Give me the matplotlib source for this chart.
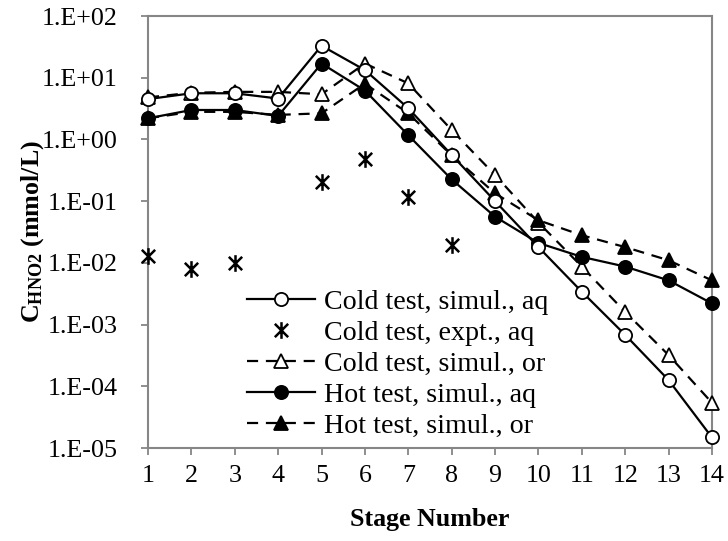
import math
import matplotlib
matplotlib.use("Agg")
import matplotlib.pyplot as plt
from matplotlib.path import Path
from matplotlib.ticker import FixedLocator, FuncFormatter, NullLocator

plt.rcParams['font.family'] = ['Liberation Serif', 'DejaVu Serif']
plt.rcParams['mathtext.fontset'] = 'custom'
plt.rcParams['mathtext.rm'] = 'Liberation Serif'
plt.rcParams['mathtext.bf'] = 'Liberation Serif:bold'

# Stage numbers
stages = list(range(1, 15))

# HNO2 concentration profiles (mmol/L)
cold_sim_aq = [4.5, 5.6, 5.6, 4.6, 33, 13.3, 3.2, 0.56, 0.10, 0.018, 0.0034, 6.8e-4, 1.26e-4, 1.48e-5]
cold_exp_stages = [1, 2, 3, 5, 6, 7, 8]
cold_exp_aq = [0.0129, 0.0079, 0.0098, 0.206, 0.49, 0.117, 0.0195]
cold_sim_or = [4.8, 5.7, 5.9, 5.9, 5.4, 17, 8.1, 1.42, 0.265, 0.045, 0.0087, 0.0016, 3.2e-4, 5.4e-5]
hot_sim_aq = [2.2, 3.0, 3.0, 2.4, 17, 6.2, 1.17, 0.225, 0.056, 0.021, 0.0125, 0.0087, 0.0052, 0.0022]
hot_sim_or = [2.2, 2.8, 2.8, 2.5, 2.65, 8.0, 2.65, 0.55, 0.134, 0.049, 0.028, 0.018, 0.011, 0.0052]

y_exponents = list(range(-5, 3))

# star marker: vertical stroke crossed by an X
star = Path([(0, -1), (0, 1), (-0.8, -0.8), (0.8, 0.8), (-0.8, 0.8), (0.8, -0.8)],
            [Path.MOVETO, Path.LINETO, Path.MOVETO, Path.LINETO, Path.MOVETO, Path.LINETO])

fig = plt.figure(figsize=(7.28, 5.41), dpi=100)
ax = fig.add_axes([0.2033, 0.1719, 0.7747, 0.7985])

fs = 18.7
lw = 1.6
ms = 9.5
dash = (0, (5, 3.5))

common = dict(color='black', lw=lw, ms=ms, clip_on=False, mew=1.3)
ax.plot(stages, cold_sim_aq, '-', marker='o', mfc='white', mec='black',
        label='Cold test, simul., aq', zorder=5, **common)
ax.plot(cold_exp_stages, cold_exp_aq, ls='none', marker=star, color='black',
        mfc='none', ms=12, mew=1.8, label='Cold test, expt., aq', clip_on=False, zorder=4)
ax.plot(stages, cold_sim_or, ls=dash, marker='^', mfc='white', mec='black',
        label='Cold test, simul., or', zorder=3, **common)
ax.plot(stages, hot_sim_aq, '-', marker='o', mfc='black', mec='black',
        label='Hot test, simul., aq', zorder=4, **common)
ax.plot(stages, hot_sim_or, ls=dash, marker='^', mfc='black', mec='black',
        label='Hot test, simul., or', zorder=3, **common)

ax.set_yscale('log')
ax.set_ylim(1e-5, 1e2)
ax.set_xlim(1, 14)
ax.set_xticks(stages)
ax.yaxis.set_major_locator(FixedLocator([10.0 ** e for e in y_exponents]))
ax.yaxis.set_minor_locator(NullLocator())
ax.yaxis.set_major_formatter(FuncFormatter(
    lambda v, p: "1.E{:+03d}".format(int(round(math.log10(v))))))

spine_color = '#868686'
for s in ax.spines.values():
    s.set_color(spine_color)
    s.set_linewidth(1.5)
ax.tick_params(axis='both', which='major', direction='out', length=5,
               width=1.3, color=spine_color, labelsize=fs)
ax.tick_params(axis='y', pad=17)
ax.tick_params(axis='x', pad=7)

ax.set_xlabel('Stage Number', fontsize=fs, fontweight='bold', labelpad=15)
ax.set_ylabel(r'$\mathbf{C_{HNO2}}$ (mmol/L)', fontsize=fs, fontweight='bold', labelpad=-3)

leg = ax.legend(loc='center left', bbox_to_anchor=(0.175, 0.194), frameon=False,
                fontsize=20.2, handlelength=2.45, handletextpad=0.3,
                labelspacing=0.19, borderpad=0, borderaxespad=0)

fig.savefig('out.png', dpi=100)
